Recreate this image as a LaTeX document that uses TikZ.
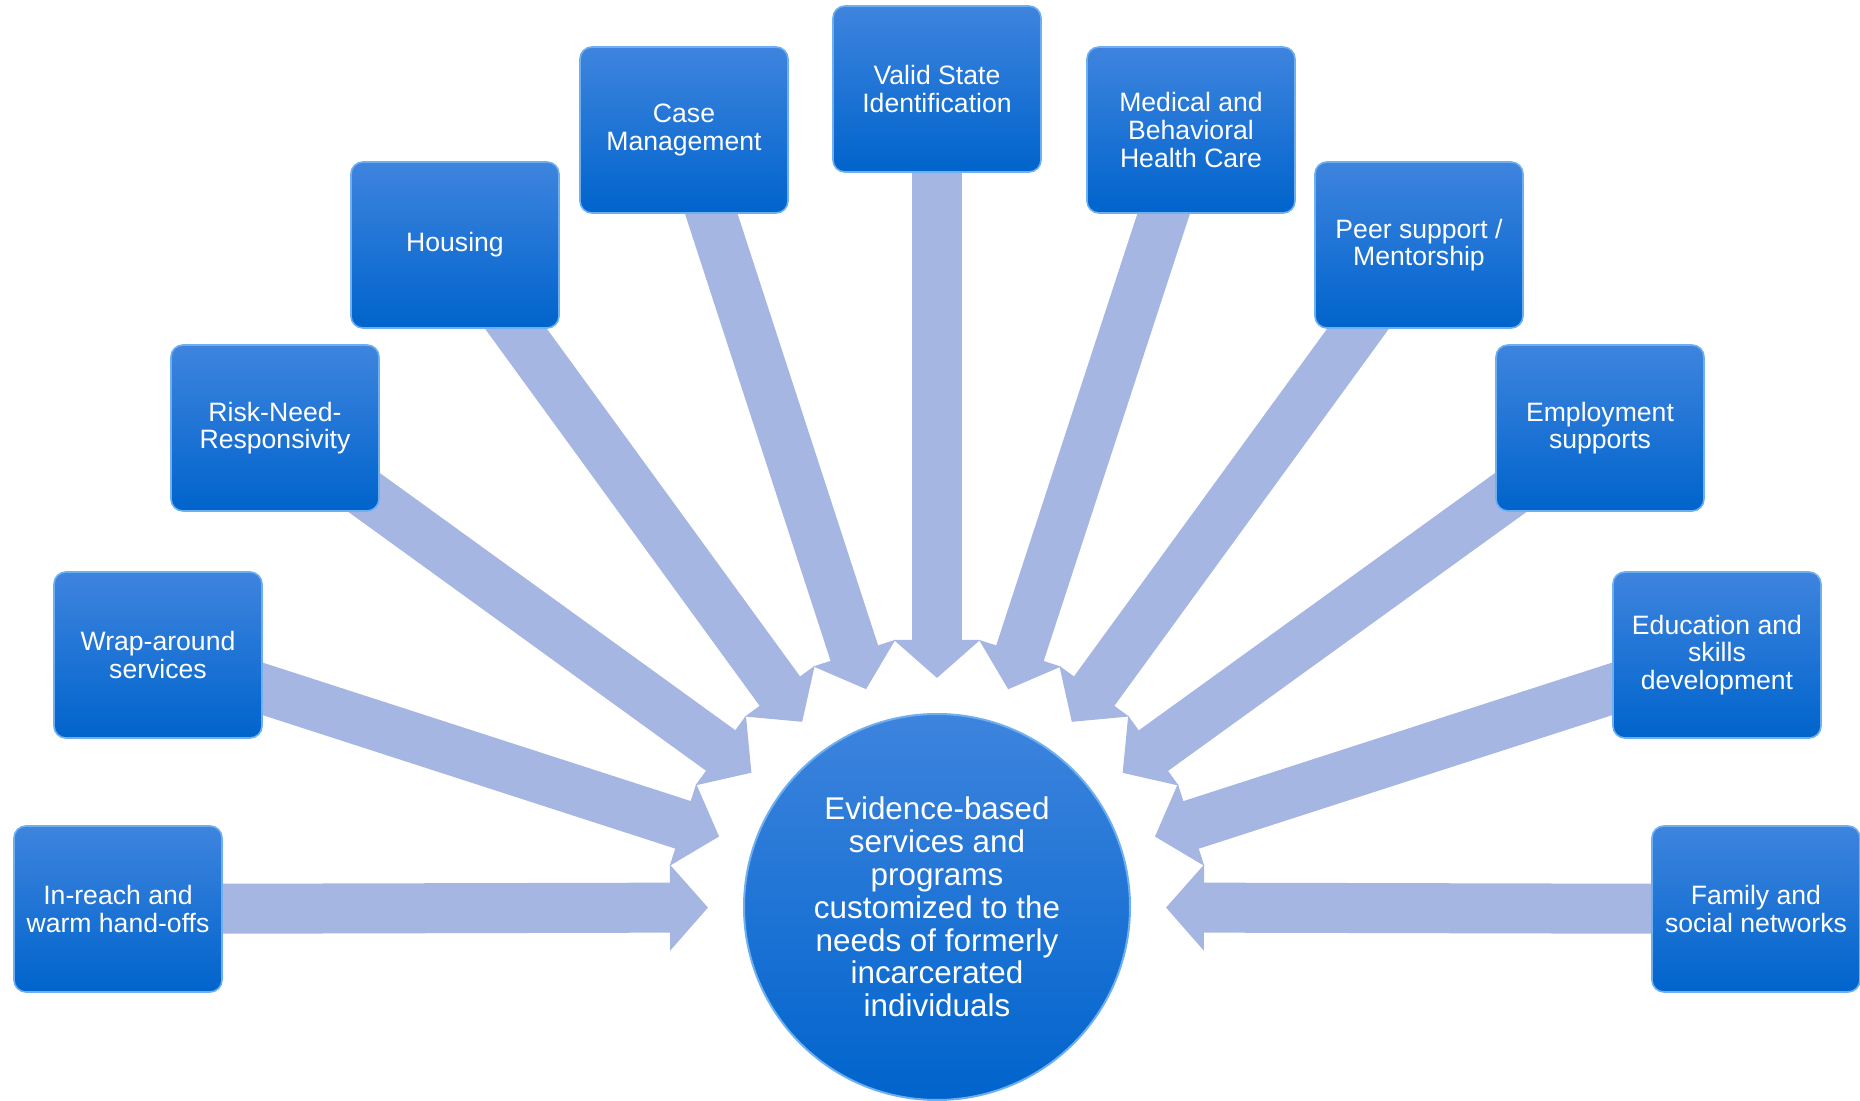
\documentclass[tikz,border=0pt]{standalone}
\usepackage{fontspec}
\setmainfont{Liberation Sans}
\usetikzlibrary{calc,arrows.meta,backgrounds}

\definecolor{boxtop}{RGB}{62,132,222}
\definecolor{boxbot}{RGB}{0,100,204}
\definecolor{boxrim}{RGB}{110,175,240}
\definecolor{flowfill}{RGB}{166,182,226}

\tikzset{
  topic/.style={rounded corners=6pt, minimum width=104pt, minimum height=83pt, inner sep=2pt,
    top color=boxtop, bottom color=boxbot, draw=boxrim, line width=0.8pt,
    text=white, align=center, font=\fontsize{13.3}{13.8}\selectfont},
  hubnode/.style={circle, minimum size=193pt, inner sep=0pt,
    top color=boxtop, bottom color=boxbot, draw=boxrim, line width=1pt,
    text=white, align=center, font=\fontsize{15.7}{16.4}\selectfont},
  flow/.style={line width=25pt, draw=flowfill, -{Triangle[length=19pt,width=42pt]}},
}

\begin{document}
\begin{tikzpicture}[x=0.5pt,y=0.5pt,yscale=-1]
\useasboundingbox (0,0) rectangle (1860,1101);

%Shape: Circle [hub]
\node [hubnode] (hub) at (937,907) {Evidence-based\\services and\\programs\\customized to the\\needs of formerly\\incarcerated\\individuals};

%Shape: Rounded Rect [topics]
\node [topic] (inreach) at (118,909) {In-reach and\\warm hand-offs};
\node [topic] (wrap) at (158,655) {Wrap-around\\services};
\node [topic] (rnr) at (275,428) {Risk-Need-\\Responsivity};
\node [topic] (housing) at (455,245) {Housing};
\node [topic] (casemgmt) at (684,130) {Case\\Management};
\node [topic] (stateid) at (937,89) {Valid State\\Identification};
\node [topic] (health) at (1191,130) {Medical and\\Behavioral\\Health Care};
\node [topic] (peer) at (1419,245) {Peer support /\\Mentorship};
\node [topic] (employ) at (1600,428) {Employment\\supports};
\node [topic] (educ) at (1717,655) {Education and\\skills\\development};
\node [topic] (family) at (1756,909) {Family and\\social networks};

%Block Arrows
\begin{scope}[on background layer]
\foreach \t in {inreach,wrap,rnr,housing,casemgmt,stateid,health,peer,employ,educ,family}{
  \coordinate (tip-\t) at ($(hub.center)!114.5pt!(\t.center)$);
  \draw [flow] (\t.center) -- (tip-\t);
}
\end{scope}

\end{tikzpicture}
\end{document}
